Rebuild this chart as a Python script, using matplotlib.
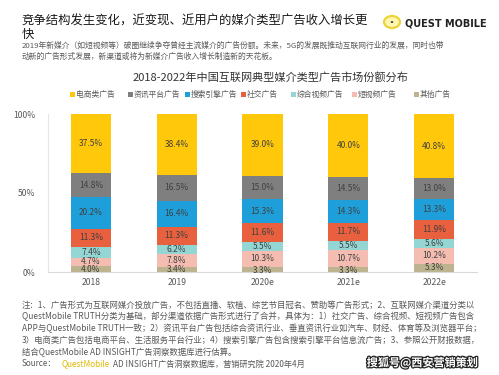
import matplotlib
matplotlib.use("Agg")
import matplotlib.pyplot as plt
from matplotlib.patches import Rectangle, Circle
import matplotlib.patheffects as pe
import numpy as np

plt.rcParams['font.family'] = ['Noto Sans CJK SC', 'DejaVu Sans']

years = ["2018", "2019", "2020e", "2021e", "2022e"]
series_names = ["电商类广告", "资讯平台广告", "搜索引擎广告", "社交广告", "综合视频广告", "短视频广告", "其他广告"]
ecommerce = [37.5, 38.4, 39.0, 40.0, 40.8]
news = [14.8, 16.5, 15.0, 14.5, 13.0]
search = [20.2, 16.4, 15.3, 14.3, 13.3]
social = [11.3, 11.3, 11.6, 11.7, 11.9]
video = [7.4, 6.2, 5.5, 5.5, 5.6]
short_video = [4.7, 7.8, 10.3, 10.7, 10.2]
other = [4.0, 3.4, 3.3, 3.3, 5.3]
colors = ["#FFC80A", "#7F7F7F", "#1F9FDA", "#E8603E", "#93D6D4", "#F5BDB1", "#BDB48F"]
yticks = [0, 50, 100]
ytick_labels = ["0%", "50%", "100%"]

fig = plt.figure(figsize=(4.99, 3.75), dpi=100)
fig.patch.set_facecolor("white")

# Header
fig.text(22/499, 1 - 21/375, "竞争结构发生变化，近变现、近用户的媒介类型广告收入增长更", fontsize=8.9,
         color="#1a1a1a", va="center", ha="left")
fig.text(22/499, 1 - 34/375, "快", fontsize=8.9, color="#1a1a1a", va="center", ha="left")
fig.text(22/499, 1 - 46/375, "2019年新媒介（如短视频等）破圈继续争夺曾经主流媒介的广告份额。未来，5G的发展既推动互联网行业的发展，同时也带",
         fontsize=5.6, color="#595959", va="center", ha="left")
fig.text(22/499, 1 - 57/375, "动新的广告形式发展，新渠道或将为新媒介广告收入增长制造新的天花板。",
         fontsize=5.6, color="#595959", va="center", ha="left")
# Logo
fig.patches.append(Circle((392/499, 1 - 22/375), 0.016, transform=fig.transFigure,
                          facecolor="#FFF6B0", edgecolor="#E9D43A", linewidth=1.6))
fig.patches.append(Circle((392/499, 1 - 22/375), 0.0025, transform=fig.transFigure,
                          facecolor="#333333", edgecolor="none"))
fig.text(405/499, 1 - 23/375, "QUEST MOBILE", fontsize=7, fontweight="bold", color="#222222",
         va="center", ha="left", family="DejaVu Sans")

# Chart title
fig.text(270/499, 1 - 77/375, "2018-2022年中国互联网典型媒介类型广告市场份额分布", fontsize=8,
         color="#333333", va="center", ha="center")

# Legend
leg_x = [70, 128, 185, 241, 291, 352, 414]
for x, name, c in zip(leg_x, series_names, colors):
    fig.patches.append(Rectangle((x/499, 1 - 97/375), 5/499, 5/375, transform=fig.transFigure,
                                 facecolor=c, edgecolor="none"))
    fig.text((x + 6)/499, 1 - 95/375, name, fontsize=5.6, color="#595959", va="center", ha="left")

ax = fig.add_axes([48/499, (375 - 272)/375, 429/499, (272 - 114)/375])
ax.set_facecolor("none")

x = np.arange(len(years))
stack = [other, short_video, video, social, search, news, ecommerce]
stack_colors = colors[::-1]
bottom = np.zeros(len(years))
for k, (vals, c) in enumerate(zip(stack, stack_colors)):
    vals = np.array(vals)
    ax.bar(x, vals, bottom=bottom, width=0.47, color=c, edgecolor="none", zorder=2)
    for xi, v, b in zip(x, vals, bottom):
        yc = b + v/2
        if v < 5:
            yc += 0.4 if k == 1 else -0.4
        ax.text(xi, yc, f"{v:.1f}%", ha="center", va="center", fontsize=6.0,
                color="#404040", zorder=3)
    bottom += vals

ax.set_xlim(-0.5, 4.5)
ax.set_ylim(0, 100)
ax.set_xticks(x)
ax.set_xticklabels(years, fontsize=6.2, color="#595959")
ax.set_yticks(yticks)
ax.set_yticklabels(ytick_labels, fontsize=6.2, color="#595959")
ax.tick_params(length=0, pad=4)
ax.tick_params(axis="y", pad=9)
for s in ["top", "right"]:
    ax.spines[s].set_visible(False)
ax.spines["left"].set_color("#e6e6e6")
ax.spines["bottom"].set_color("#d9d9d9")
ax.spines["left"].set_linewidth(0.8)
ax.spines["bottom"].set_linewidth(0.8)

# Notes
notes = [
    "注：1、广告形式为互联网媒介投放广告，不包括直播、软植、综艺节目冠名、赞助等广告形式；2、互联网媒介渠道分类以",
    "QuestMobile TRUTH分类为基础，部分渠道依据广告形式进行了合并，具体为：1）社交广告、综合视频、短视频广告包含",
    "APP与QuestMobile TRUTH一致；2）资讯平台广告包括综合资讯行业、垂直资讯行业如汽车、财经、体育等及浏览器平台；",
    "3）电商类广告包括电商平台、生活服务平台行业；4）搜索引擎广告包含搜索引擎平台信息流广告；3、参照公开财报数据，",
    "结合QuestMobile AD INSIGHT广告洞察数据库进行估算。",
]
for i, line in enumerate(notes):
    fig.text(22/499, 1 - (305 + i*11.8)/375, line, fontsize=6.05, color="#595959", va="center", ha="left")

fig.text(22/499, 1 - 364/375, "Source：", fontsize=5.9, color="#595959", va="center", ha="left")
fig.text(61/499, 1 - 364/375, "QuestMobile", fontsize=5.9, color="#E0B800", va="center", ha="left")
fig.text(113/499, 1 - 364/375, "AD INSIGHT广告洞察数据库，营销研究院 2020年4月", fontsize=5.9,
         color="#595959", va="center", ha="left")

fig.text(478/499, 1 - 363/375, "搜狐号@西安营销策划", fontsize=8, fontweight="bold", color="white",
         va="center", ha="right",
         path_effects=[pe.withStroke(linewidth=1.8, foreground="#222222")])

fig.savefig("out.png", dpi=100, facecolor="white")
